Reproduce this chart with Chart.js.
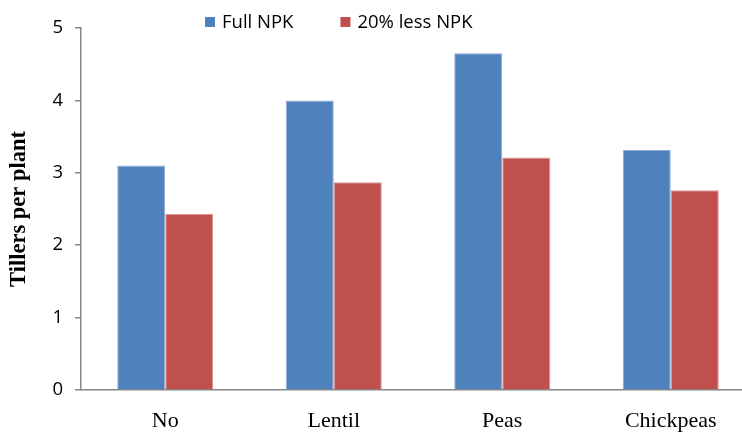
<!DOCTYPE html>
<html lang="en">
<head>
    <meta charset="UTF-8">
    <title>Tillers per plant</title>
    <script src="https://cdn.jsdelivr.net/npm/chart.js"></script>
    <style>
        body {
            margin: 0;
            padding: 0;
            background: #fff;
            overflow: hidden;
        }

        /* the original is cropped on the right, so the canvas runs past the frame */
        .container {
            width: 742px;
            height: 434px;
            overflow: hidden;
        }
    </style>
</head>
<body>
    <div class="container">
        <canvas id="tillerChart" width="755" height="434"></canvas>
    </div>

    <script>
        // Chart data
        const categories = ['No', 'Lentil', 'Peas', 'Chickpeas'];
        const fullNPK = [3.1, 4.0, 4.65, 3.32];
        const lessNPK = [2.43, 2.87, 3.21, 2.76];
        const yTicks = [0, 1, 2, 3, 4, 5];

        const axisGray = '#868686';
        const sansFont = 'Open Sans, Liberation Sans, sans-serif';
        const serifFont = 'Liberation Serif, serif';

        // Legend drawn over the top of the plot, like the Excel original
        const overlayLegend = {
            id: 'overlayLegend',
            afterDraw(chart) {
                const c = chart.ctx;
                c.save();
                c.font = '18.5px ' + sansFont;
                c.textBaseline = 'middle';
                let x = 205;
                chart.data.datasets.forEach(ds => {
                    c.fillStyle = ds.backgroundColor;
                    c.fillRect(x, 17, 10, 10);
                    c.fillStyle = '#000';
                    c.fillText(ds.label, x + 17, 23);
                    x += 17 + c.measureText(ds.label).width + 47;
                });
                c.restore();
            }
        };

        const ctx = document.getElementById('tillerChart').getContext('2d');
        const myChart = new Chart(ctx, {
            type: 'bar',
            data: {
                labels: categories,
                datasets: [
                    {
                        label: 'Full NPK',
                        data: fullNPK,
                        backgroundColor: '#4F81BD',
                        borderColor: '#8DAAD6',
                        borderWidth: 1,
                        categoryPercentage: 0.57,
                        barPercentage: 1.0
                    },
                    {
                        label: '20% less NPK',
                        data: lessNPK,
                        backgroundColor: '#C0504D',
                        borderColor: '#D99694',
                        borderWidth: 1,
                        categoryPercentage: 0.57,
                        barPercentage: 1.0
                    }
                ]
            },
            plugins: [overlayLegend],
            options: {
                responsive: false,
                animation: false,
                layout: {
                    padding: { top: 28, right: 0, bottom: 0, left: 0 }
                },
                plugins: {
                    legend: { display: false },
                    tooltip: { enabled: false }
                },
                scales: {
                    x: {
                        grid: { display: false, drawTicks: false },
                        border: { color: axisGray, width: 1.5 },
                        ticks: {
                            color: '#000',
                            padding: 18,
                            font: { family: serifFont, size: 22 }
                        },
                        afterFit: (axis) => { axis.height = 44; }
                    },
                    y: {
                        min: 0,
                        max: 5,
                        grid: {
                            drawOnChartArea: false,
                            color: axisGray,
                            tickLength: 6,
                            lineWidth: 1.5
                        },
                        border: { color: axisGray, width: 1.5 },
                        afterBuildTicks: (axis) => {
                            axis.ticks = yTicks.map(v => ({ value: v }));
                        },
                        ticks: {
                            color: '#000',
                            padding: 12,
                            font: { family: sansFont, size: 18.5 }
                        },
                        title: {
                            display: true,
                            text: 'Tillers per plant',
                            color: '#000',
                            padding: { top: 6, bottom: 0 },
                            font: { family: serifFont, size: 22.5, weight: 'bold' }
                        },
                        afterFit: (axis) => { axis.width = 81; }
                    }
                }
            }
        });
    </script>
</body>
</html>
